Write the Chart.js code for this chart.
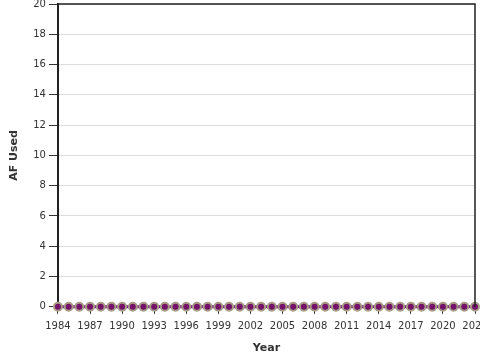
<!DOCTYPE html>
<html><head><meta charset="utf-8">
<script src="https://cdn.jsdelivr.net/npm/chart.js@4/dist/chart.umd.min.js"></script>
<style>html,body{margin:0;padding:0;background:#fff;overflow:hidden}#wrap{width:480px;height:360px;overflow:hidden}#c{display:block;margin-top:-5px}</style>
</head><body><div id="wrap"><canvas id="c" width="500" height="365" style="width:500px;height:365px"></canvas></div>
<script>
const years = [1984,1985,1986,1987,1988,1989,1990,1991,1992,1993,1994,1995,1996,1997,1998,1999,2000,2001,2002,2003,2004,2005,2006,2007,2008,2009,2010,2011,2012,2013,2014,2015,2016,2017,2018,2019,2020,2021,2022,2023];
const afUsed = [0,0,0,0,0,0,0,0,0,0,0,0,0,0,0,0,0,0,0,0,0,0,0,0,0,0,0,0,0,0,0,0,0,0,0,0,0,0,0,0];
const yMin = 0, yMax = 20, yStep = 2;
const xStep = 3;

const frame = {
  id: 'frame',
  afterDraw(chart) {
    const a = chart.chartArea, ctx = chart.ctx;
    ctx.save();
    ctx.strokeStyle = '#222';
    ctx.lineWidth = 1.5;
    ctx.beginPath();
    ctx.moveTo(a.left, a.top); ctx.lineTo(a.right, a.top); ctx.lineTo(a.right, a.bottom);
    ctx.stroke();
    ctx.restore();
  }
};

new Chart(document.getElementById('c'), {
  type: 'line',
  data: {
    datasets: [{
      label: 'AF Used',
      data: years.map((y, i) => ({x: y, y: afUsed[i]})),
      borderColor: '#6b0f78',
      borderWidth: 3,
      pointRadius: 4,
      pointBackgroundColor: '#731268',
      pointBorderColor: '#a99d88',
      pointBorderWidth: 2,
      tension: 0,
      clip: false
    }]
  },
  options: {
    responsive: false,
    animation: false,
    layout: {padding: {top: 0, right: 25, left: 0, bottom: 0}},
    plugins: {legend: {display: false}, tooltip: {enabled: false}},
    scales: {
      x: {
        type: 'linear',
        min: years[0], max: years[years.length - 1],
        ticks: {stepSize: xStep, callback: v => String(v), color: '#333', font: {family: 'DejaVu Sans', size: 10}, padding: 7, maxRotation: 0, autoSkip: false},
        grid: {drawOnChartArea: false, tickColor: '#333', tickLength: 7, lineWidth: 1},
        border: {color: '#222', width: 1.5},
        title: {display: true, text: 'Year', color: '#333', font: {family: 'DejaVu Sans', size: 11, weight: 'bold'}, padding: {top: 2, bottom: 5}}
      },
      y: {
        min: yMin, max: yMax,
        ticks: {stepSize: yStep, color: '#333', font: {family: 'DejaVu Sans', size: 10}, padding: 3},
        grid: {color: '#dcdcdc', tickColor: '#333', tickLength: 9, lineWidth: 1},
        border: {color: '#222', width: 2},
        title: {display: true, text: 'AF Used', color: '#333', font: {family: 'DejaVu Sans', size: 11, weight: 'bold'}, padding: {top: 8, bottom: 9}}
      }
    }
  },
  plugins: [frame]
});
</script></body></html>
